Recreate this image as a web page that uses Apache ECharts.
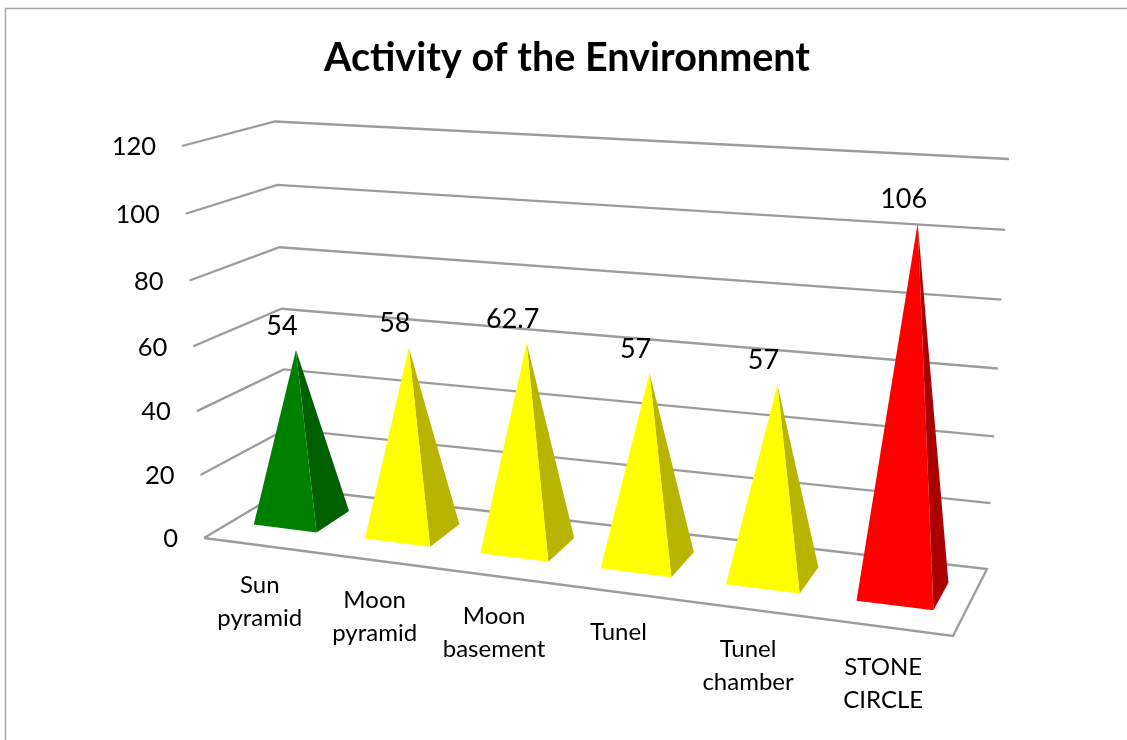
<!DOCTYPE html>
<html>
<head>
<meta charset="utf-8">
<style>html,body{margin:0;padding:0;background:#fff}#chart{width:1127px;height:740px}</style>
<script src="https://cdn.jsdelivr.net/npm/echarts@6/dist/echarts.min.js"></script>
</head>
<body>
<div id="chart"></div>
<script>
const chartTitle = 'Activity of the Environment';
const categories = ['Sun pyramid', 'Moon pyramid', 'Moon basement', 'Tunel', 'Tunel chamber', 'STONE CIRCLE'];
const values = [54, 58, 62.7, 57, 57, 106];
const valueLabels = ['54', '58', '62.7', '57', '57', '106'];
const ticks = [0, 20, 40, 60, 80, 100, 120];
const frontColors = ['#008000', '#ffff00', '#ffff00', '#ffff00', '#ffff00', '#ff0000'];
const sideColors = ['#006000', '#b8b400', '#b8b400', '#b8b400', '#b8b400', '#aa0000'];

const FONT = 'Lato, Carlito, "Open Sans", sans-serif';
const LINE = '#9c9c9c';
// Perspective box of the plot: corners as seen in the view
const box = {
  fb: [[204, 538], [953, 636]], bb: [[288, 488], [987, 569]],
  ft: [[182, 146], [971, 197]], bt: [[275, 121.5], [1009, 159]]
};
const warp = (t, k) => t / (t + k * (1 - t));
const mix = (a, b, t) => [a[0] + (b[0] - a[0]) * t, a[1] + (b[1] - a[1]) * t];

function projector(params) {
  const g = params.coordSys;
  return function (px, py, z) {
    const s = warp((px - g.x) / g.width, 1.13);
    const u = warp((g.y + g.height - py) / g.height, 1.045);
    const bottom = mix(mix(box.fb[0], box.fb[1], s), mix(box.bb[0], box.bb[1], s), z);
    const top = mix(mix(box.ft[0], box.ft[1], s), mix(box.bt[0], box.bt[1], s), z);
    return mix(bottom, top, u);
  };
}

function renderWall(params, api) {
  const P = projector(params);
  const g = params.coordSys;
  const tick = api.value(0);
  const y = api.coord([0, tick])[1];
  const left = g.x, right = g.x + g.width;
  const children = [];
  const pts = [P(left, y, 0), P(left, y, 1), P(right, y, 1)];
  if (tick === 0) {
    pts.push(P(right, y, 0));
    pts.push(P(left, y, 0));
  }
  children.push({
    type: 'polyline',
    shape: { points: pts },
    style: { stroke: LINE, lineWidth: 2.3, fill: null, lineJoin: 'miter' }
  });
  children.push({
    type: 'text',
    style: {
      x: pts[0][0] - 26, y: pts[0][1] + 1, text: String(tick),
      fontFamily: FONT, fontSize: 25.5, fill: '#000', align: 'right', verticalAlign: 'middle'
    }
  });
  return { type: 'group', children };
}

function renderPyramid(params, api) {
  const P = projector(params);
  const i = api.value(0), v = api.value(1);
  const c = api.coord([i, v]), b = api.coord([i, 0]);
  const hw = api.size([1, 0])[0] * 0.285;
  const z0 = 0.325, z1 = 0.74, zc = 0.54;
  const cx = c[0] - 1.2;
  const fl = P(cx - hw, b[1], z0), fr = P(cx + hw, b[1], z0), br = P(cx + hw, b[1], z1);
  const apex = P(cx, c[1], zc);
  return {
    type: 'group',
    children: [
      { type: 'polygon', shape: { points: [fr, br, apex] }, style: { fill: sideColors[i] } },
      { type: 'polygon', shape: { points: [fl, fr, apex] }, style: { fill: frontColors[i] } },
      {
        type: 'text',
        style: {
          x: apex[0] - 14, y: apex[1] - 24, text: valueLabels[i],
          fontFamily: FONT, fontSize: 27, fill: '#000', align: 'center', verticalAlign: 'middle'
        }
      }
    ]
  };
}

function renderCategory(params, api) {
  const P = projector(params);
  const i = api.value(0);
  const b = api.coord([i, 0]);
  const p = P(b[0], b[1], 0);
  return {
    type: 'text',
    style: {
      x: p[0], y: p[1] + 23.5, text: categories[i].replace(' ', '\n'),
      fontFamily: FONT, fontSize: 24, lineHeight: 33, fill: '#000', align: 'center', verticalAlign: 'top'
    }
  };
}

const chart = echarts.init(document.getElementById('chart'), null, { renderer: 'canvas' });
chart.setOption({
  animation: false,
  backgroundColor: '#ffffff',
  title: {
    text: chartTitle, left: 562, top: 33, textAlign: 'center',
    textStyle: { fontFamily: FONT, fontWeight: 'bold', fontSize: 39.5, color: '#000' }
  },
  grid: { left: 100, right: 100, top: 100, bottom: 100 },
  xAxis: { type: 'category', data: categories, show: false },
  yAxis: { type: 'value', min: 0, max: 120, interval: 20, show: false },
  graphic: [{
    type: 'polyline', silent: true,
    shape: { points: [[5.5, 760], [5.5, 8.5], [1140, 8.5]] },
    style: { stroke: '#a6a6a6', lineWidth: 1.5, fill: null }
  }],
  series: [
    { type: 'custom', z: 2, clip: false, renderItem: renderWall, data: ticks.map(t => [t]), encode: { x: -1, y: 0 }, silent: true },
    { type: 'custom', z: 3, clip: false, renderItem: renderCategory, data: categories.map((c, i) => [i]), encode: { x: 0, y: -1 }, silent: true },
    { type: 'custom', z: 4, clip: false, renderItem: renderPyramid, data: values.map((v, i) => [i, v]), encode: { x: 0, y: 1 }, silent: true }
  ]
});
</script>
</body>
</html>
